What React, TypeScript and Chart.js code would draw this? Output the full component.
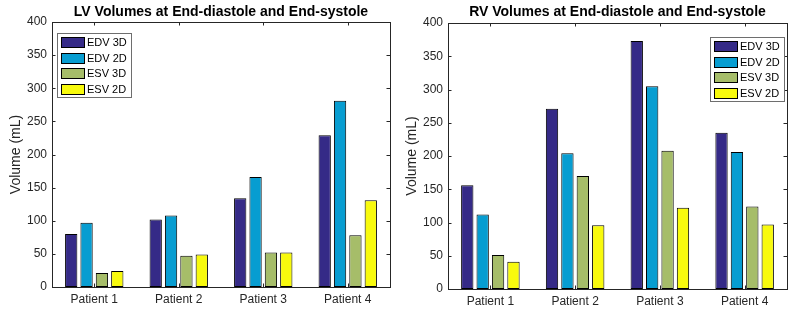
import React, { useEffect, useRef } from "react";
import { Chart, registerables } from "chart.js";

Chart.register(...registerables);

const categories = ["Patient 1", "Patient 2", "Patient 3", "Patient 4"];
const seriesNames = ["EDV 3D", "EDV 2D", "ESV 3D", "ESV 2D"];
const seriesColors = ["#352a87", "#079dd1", "#a6bd69", "#f8fa0d"];

const lvEDV3D = [80, 102, 134, 229];
const lvEDV2D = [97, 108, 166, 281];
const lvESV3D = [21, 47, 52, 78];
const lvESV2D = [24, 49, 52, 131];

const rvEDV3D = [156, 271, 373, 235];
const rvEDV2D = [112, 204, 305, 206];
const rvESV3D = [51, 170, 208, 124];
const rvESV2D = [41, 96, 122, 97];

const yTicks = [0, 50, 100, 150, 200, 250, 300, 350, 400];

const FONT = "'Liberation Sans', Arial, sans-serif";
const AXIS_COLOR = "#262626";

type Cfg = {
  title: string;
  series: number[][];
  area: { left: number; right: number; top: number; bottom: number };
  yTitleX: number;
  legend: { side: "left" | "right"; dx: number; dy: number };
};

const W = 401;
const H = 313;

function makeChart(canvas: HTMLCanvasElement, cfg: Cfg) {
  const decor = {
    id: "decor",
    afterDraw(chart: any) {
      const ctx = chart.ctx as CanvasRenderingContext2D;
      const a = chart.chartArea;
      const xs = chart.scales.x;
      const ys = chart.scales.y;
      ctx.save();
      // box
      ctx.strokeStyle = AXIS_COLOR;
      ctx.lineWidth = 1;
      ctx.strokeRect(Math.round(a.left) + 0.5, Math.round(a.top) + 0.5, Math.round(a.right - a.left), Math.round(a.bottom - a.top));
      // inward ticks
      const tl = 3.5;
      ctx.beginPath();
      yTicks.forEach((v) => {
        const y = Math.round(ys.getPixelForValue(v)) + 0.5;
        ctx.moveTo(a.left, y);
        ctx.lineTo(a.left + tl, y);
        ctx.moveTo(a.right, y);
        ctx.lineTo(a.right - tl, y);
      });
      categories.forEach((_, i) => {
        const x = Math.round(xs.getPixelForValue(i)) + 0.5;
        ctx.moveTo(x, a.top);
        ctx.lineTo(x, a.top + tl);
        ctx.moveTo(x, a.bottom);
        ctx.lineTo(x, a.bottom - tl);
      });
      ctx.stroke();

      // title
      ctx.fillStyle = "#000";
      ctx.font = `bold 14px ${FONT}`;
      ctx.textAlign = "center";
      ctx.textBaseline = "alphabetic";
      ctx.fillText(cfg.title, (a.left + a.right) / 2, 16);

      // y axis title
      ctx.save();
      ctx.translate(cfg.yTitleX, (a.top + a.bottom) / 2);
      ctx.rotate(-Math.PI / 2);
      ctx.fillStyle = AXIS_COLOR;
      ctx.font = `14px ${FONT}`;
      ctx.textAlign = "center";
      ctx.textBaseline = "middle";
      ctx.fillText("Volume (mL)", 0, 0);
      ctx.restore();

      // legend
      ctx.font = `11px ${FONT}`;
      let tw = 0;
      seriesNames.forEach((n) => (tw = Math.max(tw, ctx.measureText(n).width)));
      const bw = 4 + 24 + 2 + tw + 4;
      const bh = 64;
      const bx = cfg.legend.side === "left" ? a.left + cfg.legend.dx : a.right - cfg.legend.dx - bw;
      const by = a.top + cfg.legend.dy;
      ctx.fillStyle = "#fff";
      ctx.fillRect(bx, by, bw, bh);
      ctx.strokeStyle = "#6e6e6e";
      ctx.strokeRect(Math.round(bx) + 0.5, Math.round(by) + 0.5, Math.round(bw), bh);
      seriesNames.forEach((n, i) => {
        const cy = by + 9.5 + i * 15.7;
        const sx = Math.round(bx) + 4;
        const sy = Math.round(cy - 5.5);
        ctx.fillStyle = seriesColors[i];
        ctx.fillRect(sx, sy, 24, 11);
        ctx.strokeStyle = "#000";
        ctx.strokeRect(sx + 0.5, sy + 0.5, 23, 10);
        ctx.fillStyle = "#000";
        ctx.textAlign = "left";
        ctx.textBaseline = "middle";
        ctx.fillText(n, sx + 26, cy + 0.5);
      });
      ctx.restore();
    },
  };

  return new Chart(canvas, {
    type: "bar",
    data: {
      labels: categories,
      datasets: cfg.series.map((d, i) => ({
        label: seriesNames[i],
        data: d,
        backgroundColor: seriesColors[i],
        borderColor: "#000",
        borderWidth: 1,
        borderSkipped: false,
        categoryPercentage: 0.727,
        barPercentage: 0.8,
      })),
    },
    options: {
      responsive: false,
      animation: false,
      devicePixelRatio: 1,
      layout: {
        padding: { left: 0, right: W - cfg.area.right, top: cfg.area.top, bottom: 0 },
      },
      plugins: {
        legend: { display: false },
        title: { display: false },
        tooltip: { enabled: false },
      },
      scales: {
        x: {
          type: "category",
          offset: true,
          grid: { display: false, drawTicks: false },
          border: { display: false },
          ticks: {
            color: AXIS_COLOR,
            font: { family: FONT, size: 12 },
            padding: 5,
            maxRotation: 0,
          },
          afterFit(scale: any) {
            scale.height = H - cfg.area.bottom;
          },
        },
        y: {
          min: 0,
          max: 400,
          grid: { display: false, drawTicks: false },
          border: { display: false },
          afterBuildTicks(scale: any) {
            scale.ticks = yTicks.map((v) => ({ value: v }));
          },
          ticks: {
            color: AXIS_COLOR,
            font: { family: FONT, size: 12 },
            padding: 5,
          },
          afterFit(scale: any) {
            scale.width = cfg.area.left;
          },
        },
      },
    },
    plugins: [decor],
  } as any);
}

function BarPanel({ cfg, left }: { cfg: Cfg; left: number }) {
  const ref = useRef<HTMLCanvasElement>(null);
  useEffect(() => {
    if (!ref.current) return;
    const c = makeChart(ref.current, cfg);
    return () => c.destroy();
  }, []);
  return (
    <canvas
      ref={ref}
      width={W}
      height={H}
      style={{ position: "absolute", left, top: 0, width: W, height: H }}
    />
  );
}

const lvCfg: Cfg = {
  title: "LV Volumes at End-diastole and End-systole",
  series: [lvEDV3D, lvEDV2D, lvESV3D, lvESV2D],
  area: { left: 52, right: 390, top: 22, bottom: 287 },
  yTitleX: 16,
  legend: { side: "left", dx: 5, dy: 11 },
};

const rvCfg: Cfg = {
  title: "RV Volumes at End-diastole and End-systole",
  series: [rvEDV3D, rvEDV2D, rvESV3D, rvESV2D],
  area: { left: 47, right: 386, top: 23, bottom: 289 },
  yTitleX: 11.5,
  legend: { side: "right", dx: 3, dy: 14 },
};

export default function App() {
  return (
    <div style={{ position: "absolute", left: 0, top: 0, width: 802, height: 313, background: "#fff" }}>
      <BarPanel cfg={lvCfg} left={0} />
      <BarPanel cfg={rvCfg} left={401} />
    </div>
  );
}
